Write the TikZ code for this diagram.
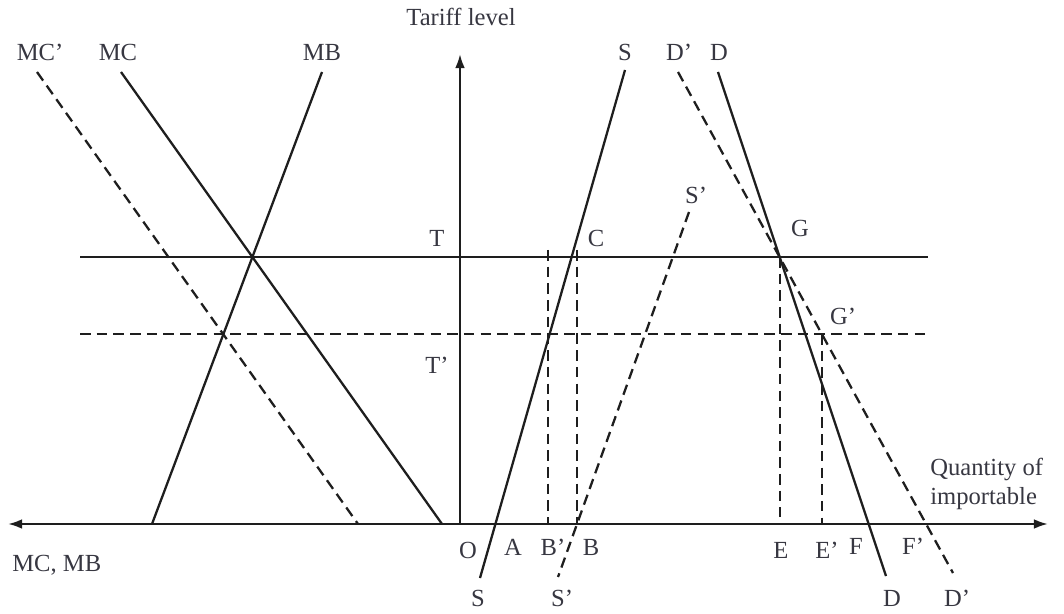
\documentclass[tikz,border=0pt]{standalone}
\usepackage{fontspec}
\setmainfont{Liberation Serif}
\usetikzlibrary{arrows.meta}
\definecolor{inkgray}{RGB}{30,30,30}
\definecolor{labelgray}{RGB}{55,55,65}

\begin{document}
\begin{tikzpicture}[x=0.02cm,y=-0.02cm,
  >={Latex[length=8pt,width=5.5pt]},
  curve/.style={line width=1.3pt, inkgray},
  shifted/.style={curve, dash pattern=on 6pt off 3.5pt},
  guide/.style={line width=1.1pt, inkgray, dash pattern=on 6pt off 3.5pt},
  lbl/.style={font=\fontsize{14}{16}\selectfont, text=labelgray, inner sep=0pt}]

% Frame
\useasboundingbox (0,0) rectangle (1064,614);

% Axes
\draw[curve, <->] (8,524) -- (1048,524);
\draw[curve, ->] (460,524) -- (460,54);
\node[lbl] (tariff) at (461,17) {Tariff level};
\node[lbl, anchor=west] (qty) at (930,469) {Quantity of};
\node[lbl, anchor=west] (imp) at (930,499) {importable};
\node[lbl, anchor=west] (mcmb) at (12,565) {MC, MB};

% Tariff levels
\draw[curve] (80,257) -- (928,257);
\draw[shifted] (80,334) -- (928,334);
\node[lbl] (T) at (437,238) {T};
\node[lbl] (Tp) at (437,365) {T'};

% Marginal cost and benefit
\draw[shifted] (37,72) -- (358,524);
\draw[curve] (121,72) -- (442,524);
\draw[curve] (322,72) -- (152,524);
\node[lbl] (MCp) at (40,52) {MC'};
\node[lbl] (MC) at (118,52) {MC};
\node[lbl] (MB) at (322,52) {MB};

% Supply
\draw[curve] (625,70) -- (480,578);
\draw[shifted] (689,212) -- (558,577);
\node[lbl] (Stop) at (625,52) {S};
\node[lbl] (Sbot) at (478,598) {S};
\node[lbl] (Sptop) at (696,195) {S'};
\node[lbl] (Spbot) at (562,598) {S'};

% Demand
\draw[curve] (718,72) -- (886,576);
\draw[shifted] (678,72) -- (953,573);
\node[lbl] (Dtop) at (719,52) {D};
\node[lbl] (Dptop) at (679,52) {D'};
\node[lbl] (Dbot) at (892,598) {D};
\node[lbl] (Dpbot) at (957,598) {D'};

% Drop lines
\draw[guide] (548,250) -- (548,524);
\draw[guide] (577,250) -- (577,524);
\draw[guide] (780,257) -- (780,517);
\draw[guide] (822,334) -- (822,524);

% Points
\node[lbl] (C) at (596,238) {C};
\node[lbl] (G) at (800,228) {G};
\node[lbl] (Gp) at (843,316) {G'};

% Quantities
\node[lbl] (O) at (468,550) {O};
\node[lbl] (A) at (513,547) {A};
\node[lbl] (Bp) at (553,547) {B'};
\node[lbl] (B) at (591,547) {B};
\node[lbl] (E) at (781,550) {E};
\node[lbl] (Ep) at (827,550) {E'};
\node[lbl] (F) at (856,546) {F};
\node[lbl] (Fp) at (913,546) {F'};

\end{tikzpicture}
\end{document}
